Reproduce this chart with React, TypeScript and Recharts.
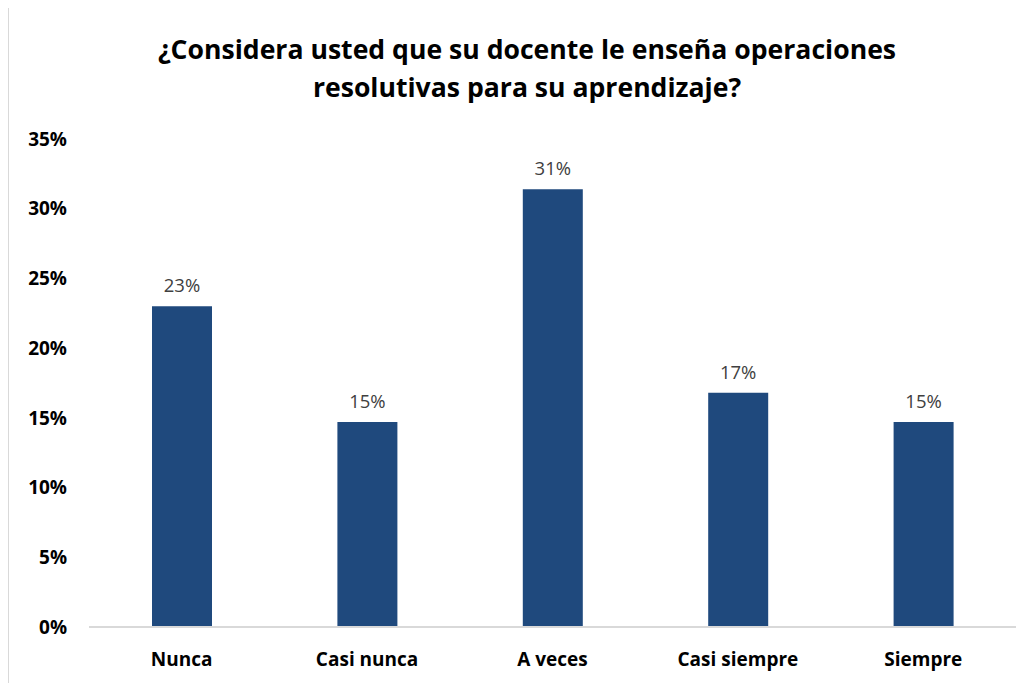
import React from 'react';
import { BarChart, Bar, XAxis, YAxis, LabelList } from 'recharts';

const CATEGORIES = ['Nunca', 'Casi nunca', 'A veces', 'Casi siempre', 'Siempre'];
const VALUES = [0.23, 0.147, 0.314, 0.168, 0.147];
const Y_TICKS = [0, 0.05, 0.1, 0.15, 0.2, 0.25, 0.3, 0.35];

const TITLE_LINES = [
  '¿Considera usted que su docente le enseña operaciones',
  'resolutivas para su aprendizaje?',
];

const FONT = '"Open Sans", Lato, sans-serif';

const data = CATEGORIES.map((name, i) => ({ name, value: VALUES[i] }));

const pct = (v: number) => `${Math.round(v * 100)}%`;

export default function App() {
  return (
    <div
      style={{
        position: 'relative',
        width: 1026,
        height: 676,
        marginTop: -1,
        borderLeft: '1px solid #d9d9d9',
        borderTop: '1px solid #d9d9d9',
        background: '#fff',
        fontFamily: FONT,
        overflow: 'hidden',
      }}
    >
      {/* Title */}
      <div
        style={{
          position: 'absolute',
          top: 22,
          left: 0,
          width: 1036,
          textAlign: 'center',
          fontSize: 26.6,
          fontWeight: 700,
          lineHeight: '38px',
          color: '#000',
        }}
      >
        {TITLE_LINES.map((t) => (
          <div key={t}>{t}</div>
        ))}
      </div>
      <BarChart
        width={1025}
        height={675}
        data={data}
        margin={{ top: 131, right: 18, bottom: 26, left: 20 }}
      >
        <XAxis
          dataKey="name"
          axisLine={{ stroke: '#d9d9d9', strokeWidth: 2 }}
          tickLine={false}
          height={30}
          tickMargin={20}
          tick={{ fill: '#000', fontSize: 19, fontWeight: 700, fontFamily: FONT }}
        />
        <YAxis
          domain={[0, 0.35]}
          ticks={Y_TICKS}
          tickFormatter={pct}
          axisLine={false}
          tickLine={false}
          width={60}
          tickMargin={16}
          tick={{ fill: '#000', fontSize: 19, fontWeight: 700, fontFamily: FONT }}
        />
        <Bar dataKey="value" fill="#1F497D" barSize={60} isAnimationActive={false}>
          <LabelList
            dataKey="value"
            position="top"
            offset={14}
            formatter={(v: any) => pct(Number(v))}
            style={{ fill: '#404040', fontSize: 18.5, fontFamily: FONT }}
          />
        </Bar>
      </BarChart>
    </div>
  );
}
